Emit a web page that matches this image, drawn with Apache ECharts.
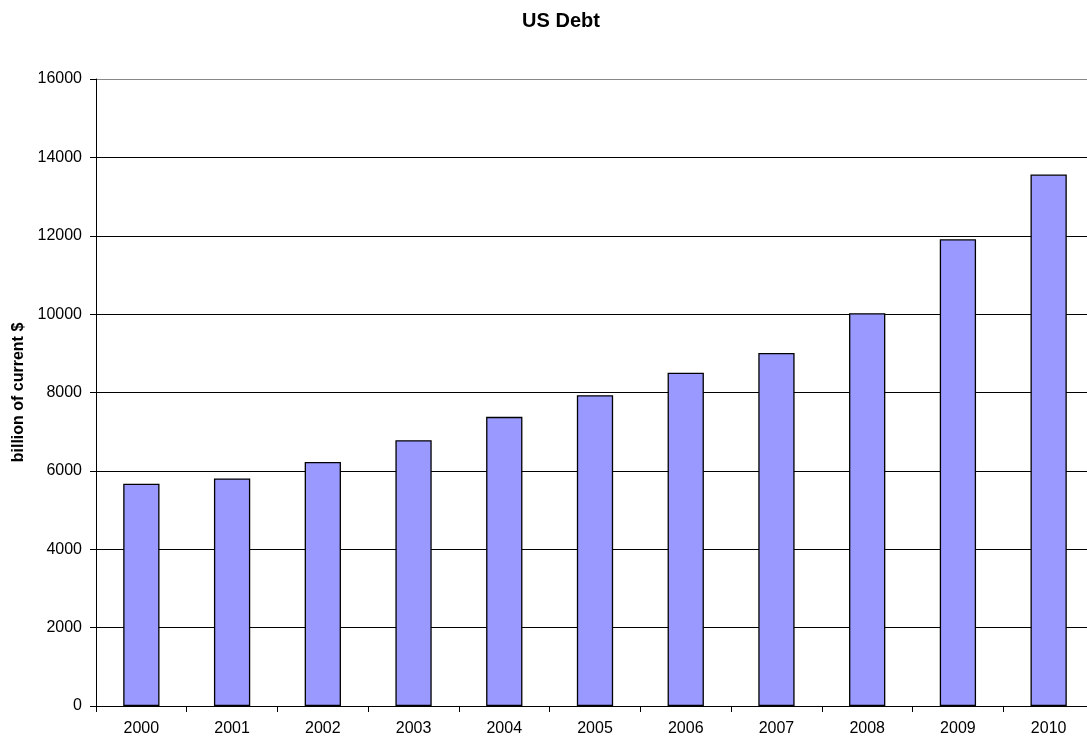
<!DOCTYPE html>
<html><head><meta charset="utf-8">
<script src="https://cdn.jsdelivr.net/npm/echarts@6/dist/echarts.min.js"></script>
<style>html,body{margin:0;padding:0;background:#fff;overflow:hidden;width:1087px;height:740px}#c{width:1110px;height:740px}</style>
</head><body><div id="c"></div>
<script>
const years = ['2000','2001','2002','2003','2004','2005','2006','2007','2008','2009','2010'];
const debt = [5674, 5807, 6228, 6783, 7379, 7933, 8507, 9008, 10025, 11910, 13562];
const yTicks = [0, 2000, 4000, 6000, 8000, 10000, 12000, 14000, 16000];

const chart = echarts.init(document.getElementById('c'));
const F = 'Liberation Sans, Arial, sans-serif';
chart.setOption({
  animation: false,
  backgroundColor: '#fff',
  title: { text: 'US Debt', left: 556, top: 6, textAlign: 'center',
    textStyle: { fontFamily: F, fontSize: 20, fontWeight: 'bold', color: '#000' } },
  grid: { left: 96, width: 998, top: 79, height: 627, containLabel: false },
  xAxis: {
    type: 'category', data: years,
    axisLine: { lineStyle: { color: '#000', width: 1 } },
    axisTick: { show: true, length: 6, lineStyle: { color: '#000' } },
    axisLabel: { fontFamily: F, fontSize: 16, color: '#000', margin: 15 },
  },
  yAxis: {
    type: 'value', min: yTicks[0], max: yTicks[yTicks.length-1], interval: 2000,
    name: 'billion of current $', nameLocation: 'middle', nameGap: 69, nameRotate: 90,
    nameTextStyle: { fontFamily: F, fontSize: 16, fontWeight: 'bold', color: '#000' },
    axisLine: { show: true, lineStyle: { color: '#000', width: 1 } },
    axisTick: { show: true, length: 6, lineStyle: { color: '#000' } },
    axisLabel: { fontFamily: F, fontSize: 16, color: '#000', margin: 14, formatter: v => String(v) },
    splitLine: { show: true, lineStyle: { color: ['#000','#000','#000','#000','#000','#000','#000','#000','#888'], width: 1 } },
  },
  series: [{
    type: 'bar', data: debt, barWidth: '40%',
    itemStyle: { color: '#9999ff', borderColor: '#000', borderWidth: 1.3 },
  }],
});
</script></body></html>
